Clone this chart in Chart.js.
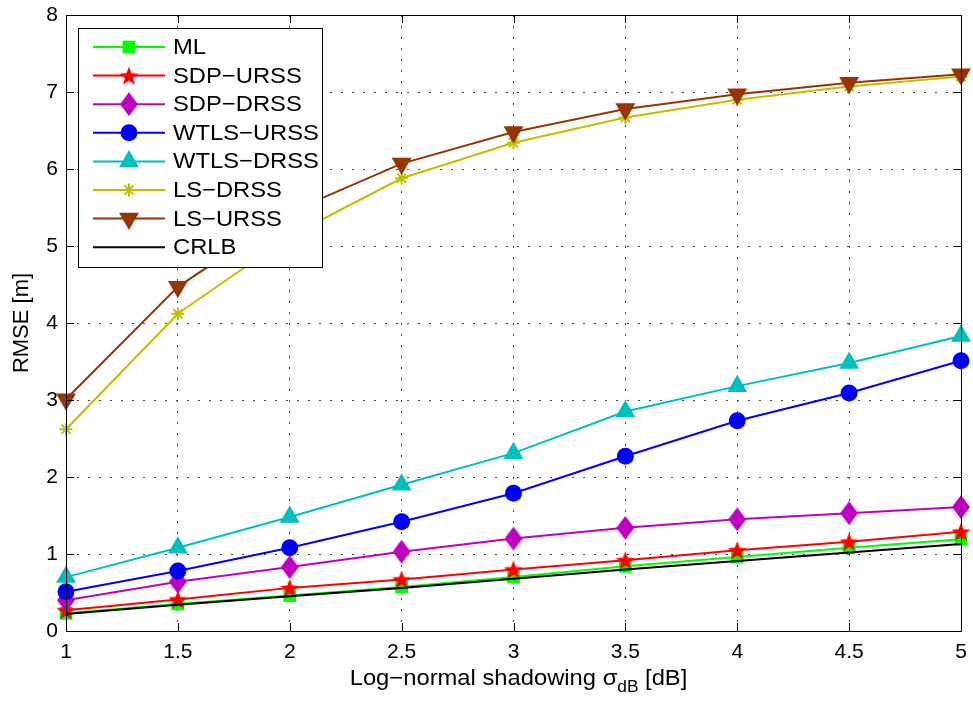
<!DOCTYPE html>
<html>
<head>
<meta charset="utf-8">
<script src="https://cdn.jsdelivr.net/npm/chart.js@4.4.1/dist/chart.umd.min.js"></script>
<style>
html, body { margin: 0; padding: 0; background: #fff; }
#wrap { width: 973px; height: 702px; }
</style>
</head>
<body>
<div id="wrap"><canvas id="rmseChart" width="973" height="702"></canvas></div>
<script>
// shadowing levels (x axis) and their tick labels
const sigmaDb = [1, 1.5, 2, 2.5, 3, 3.5, 4, 4.5, 5];
const xTickLabels = ['1', '1.5', '2', '2.5', '3', '3.5', '4', '4.5', '5'];
const yTickLabels = ['0', '1', '2', '3', '4', '5', '6', '7', '8'];

// RMSE [m] per estimator
const rmseML       = [0.23, 0.35, 0.46, 0.57, 0.70, 0.84, 0.96, 1.08, 1.19];
const rmseSdpUrss  = [0.27, 0.41, 0.56, 0.67, 0.80, 0.92, 1.05, 1.16, 1.29];
const rmseSdpDrss  = [0.40, 0.64, 0.83, 1.03, 1.20, 1.34, 1.45, 1.53, 1.61];
const rmseWtlsUrss = [0.51, 0.78, 1.08, 1.42, 1.79, 2.27, 2.73, 3.09, 3.51];
const rmseWtlsDrss = [0.70, 1.08, 1.48, 1.90, 2.31, 2.85, 3.18, 3.48, 3.83];
const rmseLsDrss   = [2.62, 4.12, 5.13, 5.88, 6.34, 6.67, 6.90, 7.07, 7.20];
const rmseLsUrss   = [3.01, 4.47, 5.44, 6.07, 6.48, 6.78, 6.97, 7.12, 7.23];
const rmseCrlb     = [0.22, 0.34, 0.45, 0.56, 0.68, 0.80, 0.91, 1.02, 1.13];

const FONT = "'Liberation Sans', Arial, Helvetica, sans-serif";
const TEXT_STRETCH = 1.08;

// filled pentagram marker
function makeStar(color, r) {
    const s = Math.ceil(r * 2 + 2);
    const c = document.createElement('canvas');
    c.width = s; c.height = s;
    const g = c.getContext('2d');
    g.fillStyle = color;
    g.beginPath();
    for (let i = 0; i < 10; i++) {
        const rr = i % 2 ? r * 0.42 : r;
        const a = -Math.PI / 2 + i * Math.PI / 5;
        g.lineTo(s / 2 + rr * Math.cos(a), s / 2 + 1 + rr * Math.sin(a));
    }
    g.closePath();
    g.fill();
    return c;
}

// tall diamond marker
function makeDiamond(color, w, h) {
    const c = document.createElement('canvas');
    c.width = w; c.height = h;
    const g = c.getContext('2d');
    g.fillStyle = color;
    g.beginPath();
    g.moveTo(w / 2, 0);
    g.lineTo(w, h / 2);
    g.lineTo(w / 2, h);
    g.lineTo(0, h / 2);
    g.closePath();
    g.fill();
    return c;
}

function toPoints(values) {
    return values.map((v, i) => ({ x: sigmaDb[i], y: v }));
}

const datasets = [
    { label: 'ML', data: toPoints(rmseML), borderColor: '#00ff00', backgroundColor: '#00ff00',
      pointStyle: 'rect', pointRadius: 9, pointBorderWidth: 0 },
    { label: 'SDP\u2212URSS', data: toPoints(rmseSdpUrss), borderColor: '#ff0000', backgroundColor: '#ff0000',
      pointStyle: makeStar('#ff0000', 10), pointRadius: 10 },
    { label: 'SDP\u2212DRSS', data: toPoints(rmseSdpDrss), borderColor: '#bf00bf', backgroundColor: '#bf00bf',
      pointStyle: makeDiamond('#bf00bf', 18, 24), pointRadius: 10 },
    { label: 'WTLS\u2212URSS', data: toPoints(rmseWtlsUrss), borderColor: '#0000ff', backgroundColor: '#0000ff',
      pointStyle: 'circle', pointRadius: 8.5, pointBorderWidth: 0 },
    { label: 'WTLS\u2212DRSS', data: toPoints(rmseWtlsDrss), borderColor: '#00bfbf', backgroundColor: '#00bfbf',
      pointStyle: 'triangle', pointRadius: 11.5, pointBorderWidth: 0 },
    { label: 'LS\u2212DRSS', data: toPoints(rmseLsDrss), borderColor: '#bfbf00', backgroundColor: '#bfbf00',
      pointStyle: 'star', pointRadius: 6.5, pointBorderWidth: 2 },
    { label: 'LS\u2212URSS', data: toPoints(rmseLsUrss), borderColor: '#993300', backgroundColor: '#993300',
      pointStyle: 'triangle', pointRotation: 180, pointRadius: 11.5, pointBorderWidth: 0 },
    { label: 'CRLB', data: toPoints(rmseCrlb), borderColor: '#000000', backgroundColor: '#000000',
      pointRadius: 0 }
];
datasets.forEach((d, i) => {
    d.borderWidth = 2;
    d.fill = false;
    d.tension = 0;
    d.clip = false;
    d.order = datasets.length - i;   // later series painted on top
});

// text drawn slightly wider than the raw font
function wideText(ctx, str, x, y) {
    ctx.save();
    ctx.translate(x, y);
    ctx.scale(TEXT_STRETCH, 1);
    ctx.fillText(str, 0, 0);
    ctx.restore();
    return ctx.measureText(str).width * TEXT_STRETCH;
}

// fixed axis sizes, no extra room reserved for overhanging labels
function fixScale(size) {
    return function (scale) {
        if (scale.isHorizontal()) scale.height = size; else scale.width = size;
        scale.paddingLeft = 0;
        scale.paddingRight = 0;
        scale.paddingTop = 0;
        scale.paddingBottom = 0;
    };
}

// box, inward ticks, axis titles and the legend box
const decorations = {
    id: 'decorations',
    afterDraw(chart) {
        const ctx = chart.ctx;
        const area = chart.chartArea;
        const xs = chart.scales.x, ys = chart.scales.y;
        ctx.save();
        ctx.strokeStyle = '#000';
        ctx.lineWidth = 1;
        ctx.strokeRect(Math.round(area.left) + 0.5, Math.round(area.top) + 0.5,
            Math.round(area.right - area.left), Math.round(area.bottom - area.top));

        const tl = 8;
        ctx.beginPath();
        xs.ticks.forEach(t => {
            const px = Math.round(xs.getPixelForValue(t.value)) + 0.5;
            ctx.moveTo(px, area.bottom); ctx.lineTo(px, area.bottom - tl);
            ctx.moveTo(px, area.top); ctx.lineTo(px, area.top + tl);
        });
        ys.ticks.forEach(t => {
            const py = Math.round(ys.getPixelForValue(t.value)) + 0.5;
            ctx.moveTo(area.left, py); ctx.lineTo(area.left + tl, py);
            ctx.moveTo(area.right, py); ctx.lineTo(area.right - tl, py);
        });
        ctx.stroke();

        // x title with subscript
        ctx.fillStyle = '#000';
        ctx.textBaseline = 'alphabetic';
        ctx.textAlign = 'left';
        const main = 'Log\u2212normal shadowing \u03c3';
        const sub = 'dB';
        const tail = ' [dB]';
        ctx.font = '22px ' + FONT;
        const w1 = ctx.measureText(main).width * TEXT_STRETCH;
        const w3 = ctx.measureText(tail).width * TEXT_STRETCH;
        ctx.font = '16px ' + FONT;
        const w2 = ctx.measureText(sub).width * TEXT_STRETCH;
        let tx = (area.left + area.right) / 2 + 5 - (w1 + w2 + w3) / 2;
        const ty = 685;
        ctx.font = '22px ' + FONT;
        tx += wideText(ctx, main, tx, ty);
        ctx.font = '16px ' + FONT;
        tx += wideText(ctx, sub, tx, ty + 7);
        ctx.font = '22px ' + FONT;
        wideText(ctx, tail, tx, ty);

        // y title
        ctx.save();
        ctx.translate(28, (area.top + area.bottom) / 2);
        ctx.rotate(-Math.PI / 2);
        ctx.textAlign = 'center';
        ctx.fillText('RMSE [m]', 0, 0);
        ctx.restore();

        // legend
        const lx = 78.5, ly = 28.5, lw = 244, lh = 239;
        ctx.fillStyle = '#fff';
        ctx.fillRect(lx, ly, lw, lh);
        ctx.strokeStyle = '#000';
        ctx.lineWidth = 1;
        ctx.strokeRect(lx, ly, lw, lh);
        ctx.font = '22px ' + FONT;
        ctx.textBaseline = 'middle';
        chart.data.datasets.forEach((d, i) => {
            const rowY = 47 + i * 28.6;
            ctx.strokeStyle = d.borderColor;
            ctx.lineWidth = 2;
            ctx.beginPath();
            ctx.moveTo(93, rowY);
            ctx.lineTo(165, rowY);
            ctx.stroke();
            if (d.pointRadius > 0) {
                ctx.fillStyle = d.backgroundColor;
                ctx.strokeStyle = d.borderColor;
                ctx.lineWidth = d.pointBorderWidth || 0;
                Chart.helpers.drawPoint(ctx, {
                    pointStyle: d.pointStyle,
                    rotation: d.pointRotation || 0,
                    radius: d.pointRadius,
                    borderWidth: d.pointBorderWidth || 0
                }, 129, rowY);
            }
            ctx.fillStyle = '#000';
            wideText(ctx, d.label, 173, rowY + 1);
        });
        ctx.restore();
    }
};

const ctx = document.getElementById('rmseChart').getContext('2d');
new Chart(ctx, {
    type: 'line',
    data: { datasets: datasets },
    options: {
        responsive: false,
        animation: false,
        events: [],
        layout: { padding: { left: 0, top: 15, right: 10, bottom: 0 } },
        plugins: {
            legend: { display: false },
            tooltip: { enabled: false }
        },
        scales: {
            x: {
                type: 'linear',
                min: 1,
                max: 5,
                afterFit: fixScale(71),
                ticks: {
                    stepSize: 0.5, padding: 9, color: '#000', maxRotation: 0,
                    font: { family: FONT, size: 21 },
                    callback: (v, i) => xTickLabels[i]
                },
                grid: { color: '#444', lineWidth: 1, drawTicks: false },
                border: { display: false, dash: [2, 9] }
            },
            y: {
                type: 'linear',
                min: 0,
                max: 8,
                afterFit: fixScale(66),
                ticks: {
                    stepSize: 1, padding: 8, color: '#000',
                    font: { family: FONT, size: 21 },
                    callback: (v, i) => yTickLabels[i]
                },
                grid: { color: '#444', lineWidth: 1, drawTicks: false },
                border: { display: false, dash: [2, 9] }
            }
        }
    },
    plugins: [decorations]
});
</script>
</body>
</html>
